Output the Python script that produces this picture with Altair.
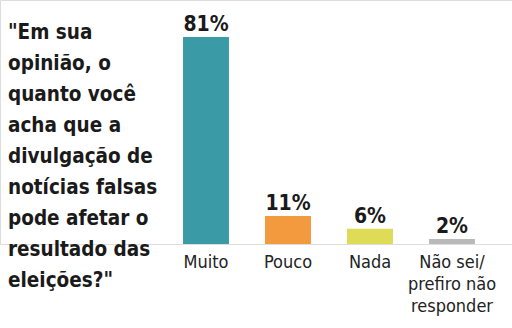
import altair as alt
import pandas as pd

categories = ["Muito", "Pouco", "Nada", "Não sei/ prefiro não responder"]
values = [81, 11, 6, 2]
value_labels = ["81%", "11%", "6%", "2%"]
colors = ["#3a9aa5", "#f29a3d", "#dedb57", "#b9b9b9"]
question_lines = ["\"Em sua", "opinião, o", "quanto você", "acha que a",
                  "divulgação de", "notícias falsas", "pode afetar o",
                  "resultado das", "eleições?\""]

FONT = "Liberation Sans Narrow, DejaVu Sans Condensed, sans-serif"

df = pd.DataFrame({"cat": categories, "val": values, "lab": value_labels})

x = alt.X("cat:N", sort=categories,
          scale=alt.Scale(range=[165, 493], paddingInner=0.44, paddingOuter=0.22),
          axis=alt.Axis(title=None, domain=False, ticks=False, labelAngle=0,
                        labelFont=FONT, labelFontSize=18, labelColor="#222",
                        labelPadding=9, labelLineHeight=22, labelBaseline="top",
                        labelLimit=200,
                        labelExpr="datum.label == 'Não sei/ prefiro não responder' ? ['Não sei/', 'prefiro não', 'responder'] : datum.label"))
y = alt.Y("val:Q", scale=alt.Scale(domain=[0, 95.5]), axis=None)

base = alt.Chart(df).encode(x=x)

bars = base.mark_bar().encode(
    y=y,
    color=alt.Color("cat:N", sort=categories,
                    scale=alt.Scale(domain=categories, range=colors), legend=None),
)

labels = base.mark_text(baseline="alphabetic", dy=-6, font=FONT, fontSize=21,
                        fontWeight="bold", color="#1a1a1a").encode(
    y=y, text="lab:N")

question = alt.Chart(pd.DataFrame({"q": [0]})).mark_text(
    align="left", baseline="alphabetic", font=FONT, fontSize=20.5,
    fontWeight="bold", color="#1a1a1a", lineHeight=31,
).encode(x=alt.value(8), y=alt.value(39), text=alt.value(question_lines))

chart = alt.layer(bars, labels, question).properties(
    width=512, height=244,
    autosize=alt.AutoSizeParams(type="none"),
    padding={"top": 0, "left": 0, "right": 0, "bottom": 84},
).configure_view(stroke=None).configure(background="white")

chart.save("out.html", embed_options={"renderer": "svg", "actions": False})
